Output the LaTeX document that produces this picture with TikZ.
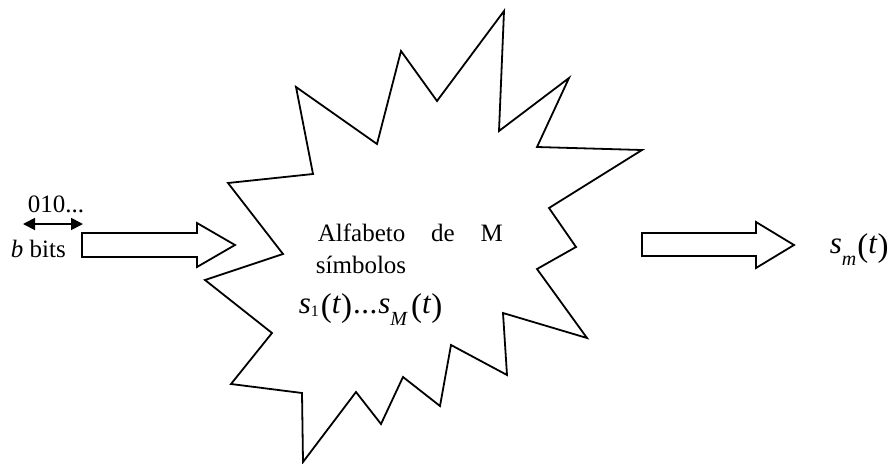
\documentclass[tikz,border=0pt]{standalone}
\usepackage{fontspec}
\setmainfont{Liberation Serif}
\usetikzlibrary{arrows.meta}
\newcommand{\mth}{\fontsize{31}{36}\selectfont}
\newcommand{\pa}[1]{\raisebox{-3.5pt}{\fontsize{33}{33}\selectfont #1}}
\newcommand{\subone}[1]{\raisebox{-3pt}{\fontsize{16}{16}\selectfont #1}}
\newcommand{\sublow}[1]{\raisebox{-12pt}{\fontsize{20}{20}\selectfont\textit{#1}}}
\begin{document}
\begin{tikzpicture}[x=1pt,y=-1pt, line width=1.8pt, line join=miter,
  txt/.style={inner sep=0pt, font=\fontsize{25}{30}\selectfont},
  outline/.style={draw=black, line width=1.8pt}]
\useasboundingbox (0,0) rectangle (890,463);
% star burst
\draw[outline] (228,183) -- (313,174) -- (296,87) -- (377,144) -- (401,51) -- (437,101)
  -- (504,11) -- (499,131) -- (569,78) -- (537,147) -- (642,150) -- (549,208)
  -- (576,247) -- (537,269) -- (587,338) -- (503,313) -- (507,375) -- (451,345)
  -- (440,406) -- (403,377) -- (381,424) -- (356,392) -- (303,462) -- (302,393)
  -- (231,384) -- (272,333) -- (205,280) -- (283,254) -- cycle;
% input block arrow
\draw[outline] (82,233) -- (197,233) -- (197,223) -- (235,245) -- (197,267) -- (197,257) -- (82,257) -- cycle;
% output block arrow
\draw[outline] (642,233) -- (756,233) -- (756,222) -- (794,245) -- (756,268) -- (756,256) -- (642,256) -- cycle;
% double arrow
\coordinate (dl) at (23,224);
\coordinate (dr) at (83,224);
\draw[line width=1.8pt, {Triangle[length=12pt,width=12pt]}-{Triangle[length=12pt,width=12pt]}] (dl) -- (dr);
% texts
\node[txt, anchor=base west] (bitsA) at (27,212) {010...};
\node[txt, anchor=base west] (bitsB) at (10,257) {\textit{b} bits};
\node[txt, anchor=base west] (alf) at (317,241) {\hbox to 185pt{Alfabeto\hfill de\hfill M}};
\node[txt, anchor=base west] (simb) at (315,273) {símbolos};
\node[txt, anchor=base west] (sig) at (298,313) {\mth\textit{s}\subone{1}\kern2pt\pa{(}\textit{t\/}\pa{)}\kern1pt.\kern0.5pt.\kern0.5pt.\kern1pt\textit{s}\sublow{M}\kern3pt\pa{(}\textit{t\/}\pa{)}};
\node[txt, anchor=base west] (sm) at (829,253) {\mth\textit{s}\sublow{m}\kern1pt\pa{(}\textit{t\/}\pa{)}};
\end{tikzpicture}
\end{document}
